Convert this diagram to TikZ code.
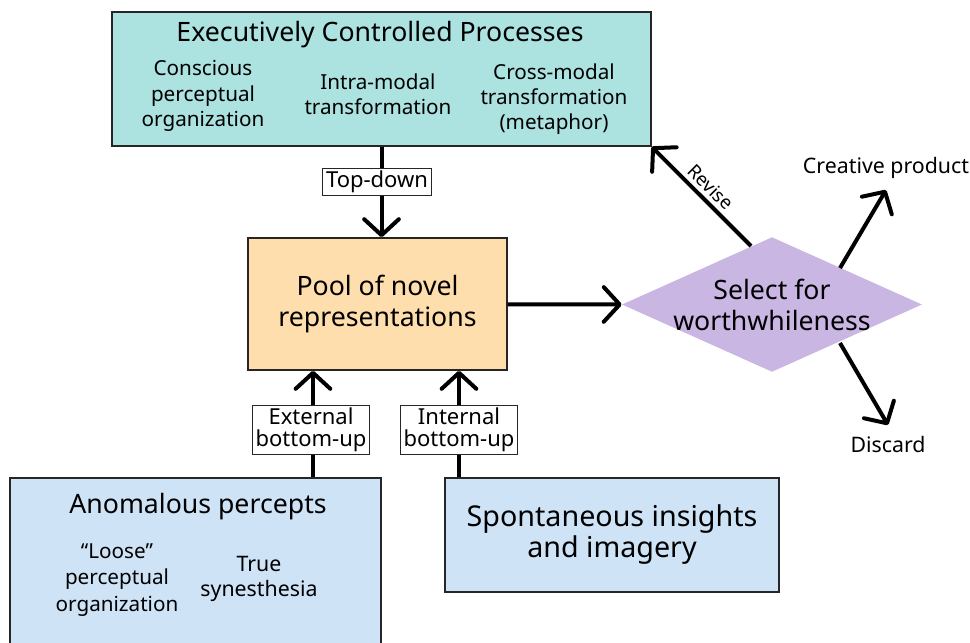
\documentclass[tikz,border=0pt]{standalone}
\usepackage{fontspec}
\setmainfont{Noto Sans}
\usetikzlibrary{arrows.meta,positioning,shapes.geometric}
\definecolor{execfill}{HTML}{ACE2DF}
\definecolor{poolfill}{HTML}{FEDEAD}
\definecolor{selfill}{HTML}{C9B6E3}
\definecolor{srcfill}{HTML}{CFE3F7}
\begin{document}
\begin{tikzpicture}[x=0.75pt,y=-0.75pt,
    box/.style={draw=black!85,line width=1.2pt,inner sep=0pt,align=center},
    tag/.style={draw=black!85,line width=1pt,fill=white,inner xsep=2.5pt,inner ysep=2pt,align=center,font=\fontsize{16.5}{16.5}\selectfont},
    sub/.style={align=center,font=\fontsize{15.5}{19}\selectfont},
    head/.style={font=\fontsize{20}{23}\selectfont},
    big/.style={font=\fontsize{20}{23.25}\selectfont},
    note/.style={font=\fontsize{16}{18}\selectfont},
    link/.style={line width=3pt},
    arr/.style={link,-{Straight Barb[length=12pt,width=26pt,round]}}]
  \useasboundingbox (0,0) rectangle (970,642);
  \node[box,fill=execfill,minimum width=404pt,minimum height=100.5pt] (exec) at (381.5,79) {};
  \node[head] (ecp) at (380,35) {Executively Controlled Processes};
  \node[sub] (cpo) at (203,96) {Conscious\\perceptual\\organization};
  \node[sub] (imt) at (378,94) {Intra-modal\\transformation};
  \node[sub] (cmt) at (554,99) {Cross-modal\\transformation\\(metaphor)};
  \node[box,big,fill=poolfill,minimum width=194pt,minimum height=99pt] (pool) at (377.5,304) {Pool of novel\\representations};
  \node[diamond,big,fill=selfill,aspect=2.22,inner sep=-4.5pt,minimum width=225pt,minimum height=101pt,align=center] (sel) at (772,304.5) {Select for\\worthwhileness};
  \node[box,fill=srcfill,minimum width=278pt,minimum height=129pt] (anom) at (195.5,564) {};
  \node[head] (ap) at (198,507) {Anomalous percepts};
  \node[sub,font=\fontsize{15.5}{20}\selectfont] (lpo) at (117,580) {``Loose''\\perceptual\\organization};
  \node[sub,font=\fontsize{16}{19}\selectfont] (tsy) at (259,579) {True\\synesthesia};
  \node[box,fill=srcfill,font=\fontsize{21.5}{23.25}\selectfont,minimum width=250.5pt,minimum height=85.5pt] (spon) at (612,535) {Spontaneous insights\\and imagery};
  \node[tag] (td) at (377,182) {Top-down};
  \node[tag] (ext) at (311,430) {External\\bottom-up};
  \node[tag] (int) at (459,430) {Internal\\bottom-up};
  \draw[link] (td.north -| exec.south) -- (exec.south);
  \draw[arr] (td.south -| exec.south) -- (exec.south |- pool.north);
  \draw[link] (anom.north -| 313,0) -- (ext.south -| 313,0);
  \draw[arr] (ext.north -| 313,0) -- (pool.south -| 313,0);
  \draw[link] (int) -- (int |- spon.north);
  \draw[arr] (int) -- (int |- pool.south);
  \draw[arr] (pool) -- (sel.west);
  \coordinate (rvs) at (751,246);
  \draw[arr] (rvs) -- node[sloped,above,font=\fontsize{14}{16}\selectfont] (rv) {Revise} (exec.south east);
  \coordinate (cps) at (840,268);
  \coordinate (cpe) at (886,190);
  \draw[arr] (cps) -- (cpe);
  \node[note,above=5pt of cpe] (cp) {Creative product};
  \coordinate (dcs) at (840,343);
  \coordinate (dce) at (888,425);
  \draw[arr] (dcs) -- (dce);
  \node[note,below=5pt of dce] (dc) {Discard};
\end{tikzpicture}
\end{document}
